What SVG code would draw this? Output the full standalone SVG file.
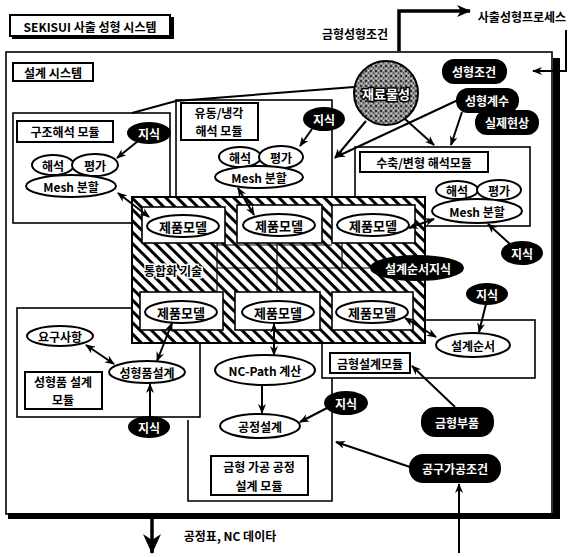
<svg xmlns="http://www.w3.org/2000/svg" width="575" height="557" viewBox="0 0 575 557">
<style>
.t{font-family:"Noto Sans CJK KR","Liberation Sans",sans-serif;font-weight:bold;font-size:12px;text-anchor:middle;dominant-baseline:central;fill:#000}
.m{font-size:13px}
.w{fill:#fff}
.box{fill:none;stroke:#000;stroke-width:1.6}
.lbl{fill:#fff;stroke:#000;stroke-width:2}
.ell{fill:#fff;stroke:#000;stroke-width:2}
.blk{fill:#000;stroke:#000;stroke-width:2}
.ln{fill:none;stroke:#000;stroke-width:2}
.cell{fill:#fff;stroke:#000;stroke-width:1.6}
</style>
<defs>
<marker id="a" viewBox="0 0 10 8" refX="9" refY="4" markerWidth="10" markerHeight="8" markerUnits="userSpaceOnUse" orient="auto-start-reverse"><path d="M0,0 L10,4 L0,8 L3,4 z" fill="#000"/></marker>
<marker id="b" viewBox="0 0 14 12" refX="13" refY="6" markerWidth="14" markerHeight="12" markerUnits="userSpaceOnUse" orient="auto"><path d="M0,0 L14,6 L0,12 L4,6 z" fill="#000"/></marker>
<marker id="c" viewBox="0 0 20 18" refX="19" refY="9" markerWidth="20" markerHeight="18" markerUnits="userSpaceOnUse" orient="auto"><path d="M0,0 L20,9 L0,18 L6,9 z" fill="#000"/></marker>
<pattern id="h" width="8" height="8" patternUnits="userSpaceOnUse" patternTransform="rotate(-45)"><rect width="8" height="8" fill="#fff"/><rect x="0" y="0" width="3" height="8" fill="#000"/></pattern>
<pattern id="d" width="5" height="5" patternUnits="userSpaceOnUse"><rect width="5" height="5" fill="#8e8e8e"/><rect x="0" y="0" width="2" height="2" fill="#333"/><rect x="3" y="2" width="1" height="2" fill="#555"/><rect x="1" y="3" width="1" height="1" fill="#e0e0e0"/><rect x="3" y="0" width="1" height="1" fill="#ddd"/></pattern>
</defs>

<g id="frame">
<rect x="6" y="52" width="546" height="462" class="box"/>
<rect x="553" y="58" width="7" height="461" fill="#000"/>
<rect x="8" y="513" width="552" height="6" fill="#000"/>
</g>

<g id="title">
<rect x="12" y="17" width="162" height="22" fill="#000"/>
<rect x="10" y="15" width="160" height="21" class="lbl"/>
<text x="90" y="26" class="t">SEKISUI 사출 성형 시스템</text>
</g>

<g id="design-system">
<rect x="13" y="63" width="80" height="18" class="lbl"/>
<text x="53" y="72" class="t">설계 시스템</text>
</g>

<g id="mod-struct">
<rect x="13" y="113" width="157" height="110" class="box"/>
<rect x="17" y="121" width="96" height="21" class="lbl"/>
<text x="65" y="131" class="t">구조해석 모듈</text>
</g>

<g id="mod-flow">
<rect x="176" y="100" width="156" height="110" class="box"/>
<rect x="181" y="103" width="77" height="37" class="lbl"/>
<text x="219" y="112" class="t">유동/냉각</text>
<text x="219" y="130" class="t">해석 모듈</text>
</g>

<g id="mod-shrink">
<rect x="355" y="147" width="175" height="79" class="box"/>
<rect x="360" y="152" width="128" height="20" class="lbl"/>
<text x="424" y="162" class="t">수축/변형 해석모듈</text>
</g>

<g id="mod-part">
<rect x="17" y="308" width="183" height="109" class="box"/>
<rect x="25" y="372" width="77" height="37" class="lbl"/>
<text x="63" y="381" class="t">성형품 설계</text>
<text x="63" y="399" class="t">모듈</text>
</g>

<g id="mod-mold">
<rect x="322" y="320" width="213" height="58" class="box"/>
<rect x="330" y="353" width="80" height="20" class="lbl"/>
<text x="370" y="363" class="t">금형설계모듈</text>
</g>

<g id="mod-process">
<path d="M332,378 V501 H188 V420" class="box"/>
<rect x="211" y="456" width="97" height="39" class="lbl"/>
<text x="259" y="466" class="t">금형 가공 공정</text>
<text x="259" y="485" class="t">설계 모듈</text>
</g>

<g id="integration">
<rect x="132" y="197" width="293" height="146" fill="url(#h)" stroke="#000" stroke-width="2"/>
<path d="M217,243 V292 M277,243 V292 M342,243 V268 M217,268 H372 M217,245 H332" fill="none" stroke="#000" stroke-width="1.2"/>
<rect x="142" y="207" width="83" height="36" class="cell"/>
<rect x="237" y="205" width="85" height="38" class="cell"/>
<rect x="332" y="205" width="83" height="38" class="cell"/>
<rect x="140" y="292" width="83" height="38" class="cell"/>
<rect x="235" y="292" width="85" height="38" class="cell"/>
<rect x="332" y="292" width="81" height="38" class="cell"/>
<text x="173" y="270" class="t" stroke="#fff" stroke-width="3" paint-order="stroke">통합화 기술</text>
</g>

<g id="pm1"><ellipse cx="183" cy="226" rx="36" ry="11" class="ell"/><text x="183" y="226" class="t m">제품모델</text></g>
<g id="pm2"><ellipse cx="279" cy="225" rx="36" ry="11" class="ell"/><text x="279" y="225" class="t m">제품모델</text></g>
<g id="pm3"><ellipse cx="373" cy="225" rx="36" ry="11" class="ell"/><text x="373" y="225" class="t m">제품모델</text></g>
<g id="pm4"><ellipse cx="181" cy="312" rx="36" ry="11" class="ell"/><text x="181" y="312" class="t m">제품모델</text></g>
<g id="pm5"><ellipse cx="278" cy="312" rx="36" ry="11" class="ell"/><text x="278" y="312" class="t m">제품모델</text></g>
<g id="pm6"><ellipse cx="372" cy="312" rx="36" ry="11" class="ell"/><text x="372" y="312" class="t m">제품모델</text></g>

<g id="seq-know"><ellipse cx="417" cy="268" rx="46" ry="12" class="blk"/><text x="418" y="268" class="t w">설계순서지식</text></g>

<g id="s-anal"><ellipse cx="53" cy="165" rx="21" ry="10" class="ell"/><text x="53" y="165" class="t">해석</text></g>
<g id="s-eval"><ellipse cx="95" cy="165" rx="23" ry="11" class="ell"/><text x="95" y="165" class="t">평가</text></g>
<g id="s-mesh"><ellipse cx="71" cy="186" rx="45" ry="11" class="ell"/><text x="71" y="186" class="t">Mesh 분할</text></g>
<g id="s-know"><ellipse cx="149" cy="133" rx="21" ry="10" class="blk"/><text x="149" y="133" class="t w">지식</text></g>

<g id="f-anal"><ellipse cx="240" cy="157" rx="21" ry="10" class="ell"/><text x="240" y="157" class="t">해석</text></g>
<g id="f-eval"><ellipse cx="281" cy="157" rx="22" ry="11" class="ell"/><text x="281" y="157" class="t">평가</text></g>
<g id="f-mesh"><ellipse cx="259" cy="177" rx="44" ry="11" class="ell"/><text x="259" y="177" class="t">Mesh 분할</text></g>
<g id="f-know"><ellipse cx="324" cy="119" rx="20" ry="11" class="blk"/><text x="324" y="119" class="t w">지식</text></g>

<g id="k-anal"><ellipse cx="457" cy="190" rx="21" ry="9" class="ell"/><text x="457" y="190" class="t">해석</text></g>
<g id="k-eval"><ellipse cx="499" cy="190" rx="22" ry="10" class="ell"/><text x="499" y="190" class="t">평가</text></g>
<g id="k-mesh"><ellipse cx="477" cy="211" rx="45" ry="12" class="ell"/><text x="477" y="211" class="t">Mesh 분할</text></g>
<g id="k-know"><ellipse cx="522" cy="253" rx="20" ry="11" class="blk"/><text x="522" y="253" class="t w">지식</text></g>

<g id="material"><circle cx="386" cy="93" r="32" fill="url(#d)" stroke="#000" stroke-width="2"/><text x="386" y="93" class="t w m" stroke="#000" stroke-width="3" paint-order="stroke">재료물성</text></g>
<g id="cond"><rect x="443" y="60" width="63" height="23" rx="11" class="blk"/><text x="474" y="71" class="t w">성형조건</text></g>
<g id="coef"><rect x="457" y="89" width="61" height="23" rx="11" class="blk"/><text x="487" y="100" class="t w">성형계수</text></g>
<g id="real"><rect x="476" y="111" width="62" height="23" rx="11" class="blk"/><text x="507" y="122" class="t w">실제현상</text></g>

<g id="req"><ellipse cx="60" cy="336" rx="33" ry="10" class="ell"/><text x="60" y="336" class="t">요구사항</text></g>
<g id="pdesign"><ellipse cx="147" cy="372" rx="38" ry="11" class="ell"/><text x="147" y="372" class="t">성형품설계</text></g>
<g id="p-know"><ellipse cx="149" cy="427" rx="20" ry="10" class="blk"/><text x="149" y="427" class="t w">지식</text></g>

<g id="ncpath"><ellipse cx="265" cy="370" rx="50" ry="15" class="ell"/><text x="265" y="370" class="t">NC-Path 계산</text></g>
<g id="procdes"><ellipse cx="260" cy="426" rx="40" ry="12" class="ell"/><text x="260" y="426" class="t">공정설계</text></g>
<g id="pr-know"><ellipse cx="346" cy="403" rx="21" ry="11" class="blk"/><text x="346" y="403" class="t w">지식</text></g>

<g id="seq"><ellipse cx="473" cy="345" rx="37" ry="12" class="ell"/><text x="473" y="345" class="t">설계순서</text></g>
<g id="sq-know"><ellipse cx="487" cy="294" rx="20" ry="10" class="blk"/><text x="487" y="294" class="t w">지식</text></g>
<g id="moldpart"><rect x="422" y="408" width="71" height="28" rx="13" class="blk"/><text x="457" y="422" class="t w">금형부품</text></g>
<g id="tool"><rect x="410" y="455" width="90" height="27" rx="13" class="blk"/><text x="455" y="468" class="t w">공구가공조건</text></g>

<g id="labels">
<text x="355" y="33" class="t">금형성형조건</text>
<text x="522" y="16" class="t">사출성형프로세스</text>
<text x="230" y="535" class="t">공정표, NC 데이타</text>
</g>

<g id="connectors">
<path d="M399,51 V11 H470" fill="none" stroke="#000" stroke-width="3.5" marker-end="url(#b)"/>
<path d="M566,30 V71 H533" class="ln" marker-end="url(#a)"/>
<path d="M354,87 L176,101 L132,113" class="ln"/>
<path d="M366,121 L335,158" class="ln" marker-end="url(#a)"/>
<path d="M458,100 L336,157" class="ln" marker-end="url(#a)"/>
<path d="M405,119 L434,145" class="ln" marker-end="url(#a)"/>
<path d="M462,112 L451,145" class="ln" marker-end="url(#a)"/>
<path d="M138,141 L117,158" class="ln" marker-end="url(#a)"/>
<path d="M312,129 L300,146" class="ln" marker-end="url(#a)"/>
<path d="M510,244 L488,224" class="ln" marker-end="url(#a)"/>
<path d="M118,193 L149,217" class="ln" marker-start="url(#a)" marker-end="url(#a)"/>
<path d="M238,188 L254,215" class="ln" marker-start="url(#a)" marker-end="url(#a)"/>
<path d="M409,228 L434,219" class="ln" marker-start="url(#a)" marker-end="url(#a)"/>
<path d="M172,323 L157,361" class="ln" marker-start="url(#a)" marker-end="url(#a)"/>
<path d="M86,345 L114,364" class="ln" marker-start="url(#a)" marker-end="url(#a)"/>
<path d="M150,417 V384" class="ln" marker-end="url(#a)"/>
<path d="M274,324 V355" class="ln" marker-start="url(#a)" marker-end="url(#a)"/>
<path d="M262,385 V413" class="ln" marker-end="url(#a)"/>
<path d="M327,408 L300,422" class="ln" marker-end="url(#a)"/>
<path d="M405,318 L436,337" class="ln" marker-start="url(#a)" marker-end="url(#a)"/>
<path d="M486,304 L479,332" class="ln" marker-end="url(#a)"/>
<path d="M455,407 L412,366" class="ln" marker-end="url(#a)"/>
<path d="M410,467 L336,442" class="ln" marker-end="url(#a)"/>
<path d="M459,553 V484" class="ln" marker-end="url(#a)"/>
<path d="M152,519 V553" fill="none" stroke="#000" stroke-width="3.5" marker-end="url(#c)"/>
</g>
</svg>
